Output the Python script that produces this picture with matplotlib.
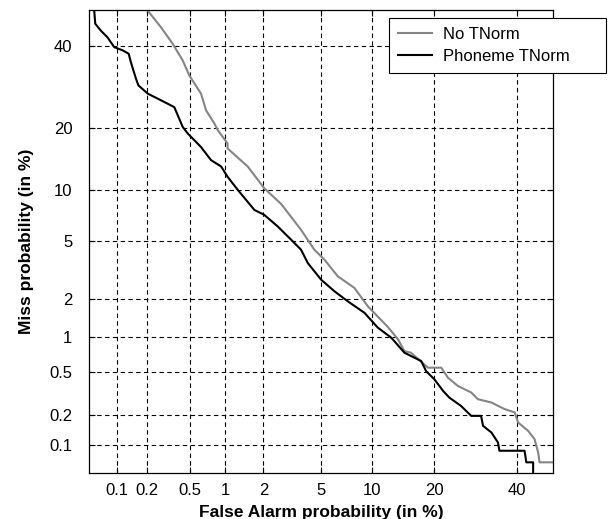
import math
import numpy as np
import matplotlib
matplotlib.use("Agg")
import matplotlib.pyplot as plt

plt.rcParams['font.family'] = ['Liberation Sans', 'DejaVu Sans']

# DET curves, values in percent
fa_no_tnorm = [0.203, 0.203, 0.272, 0.350, 0.432, 0.495, 0.628, 0.694, 0.816, 0.872,
               1.05, 1.05, 1.52, 2.03, 2.69, 3.70, 4.53, 5.25, 6.35, 7.96,
               9.46, 12.1, 13.6, 14.6, 15.7, 18.75, 21.4, 22.8, 25.0, 28.1,
               29.7, 33.1, 36.6, 39.3, 40.2, 43.0, 44.8, 45.8, 46.2, 52.0]
miss_no_tnorm = [51.2, 49.8, 45.1, 40.5, 36.0, 32.1, 27.6, 23.8, 21.0, 19.65,
                 17.15, 16.26, 13.3, 10.26, 8.41, 5.91, 4.42, 3.80, 2.92, 2.41,
                 1.76, 1.21, 0.96, 0.767, 0.743, 0.551, 0.551, 0.449, 0.377, 0.328,
                 0.284, 0.264, 0.228, 0.212, 0.169, 0.139, 0.1145, 0.0834, 0.0653, 0.0653]

fa_phoneme = [0.057, 0.057, 0.0585, 0.067, 0.079, 0.093, 0.114, 0.131, 0.138, 0.155,
              0.164, 0.203, 0.272, 0.362, 0.432, 0.48, 0.628, 0.765, 0.93, 1.05,
              1.27, 1.71, 2.03, 2.55, 3.17, 3.70, 4.10, 5.01, 6.06, 7.28,
              9.06, 10.7, 12.6, 14.6, 17.5, 18.4, 20.0, 21.8, 23.1, 25.7,
              28.1, 30.5, 31.0, 33.1, 34.8, 35.2, 42.0, 42.5, 44.4, 44.4]
miss_phoneme = [51.2, 49.8, 46.1, 44.2, 42.3, 39.6, 38.7, 37.8, 35.5, 31.3,
                29.6, 27.6, 26.05, 24.5, 20.3, 19.0, 16.5, 14.3, 13.3, 11.8,
                10.05, 7.77, 7.27, 6.19, 5.12, 4.42, 3.61, 2.76, 2.28, 1.92,
                1.57, 1.20, 0.99, 0.743, 0.630, 0.514, 0.434, 0.339, 0.294, 0.245,
                0.196, 0.196, 0.156, 0.134, 0.106, 0.0867, 0.0867, 0.0653, 0.0653, 0.04]

ticks = [0.1, 0.2, 0.5, 1, 2, 5, 10, 20, 40]
tick_labels = ['0.1', '0.2', '0.5', '1', '2', '5', '10', '20', '40']
lims = (0.05, 50)

# normal deviate scale
_z = np.linspace(-8, 8, 32001)
_cdf = np.array([0.5 * math.erfc(-v / math.sqrt(2)) for v in _z])


def probit(p):
    q = np.clip(np.asarray(p, dtype=float) / 100.0, 1e-14, 1 - 1e-14)
    return np.interp(q, _cdf, _z)


def inv_probit(z):
    return np.interp(np.asarray(z, dtype=float), _z, _cdf) * 100.0


fig = plt.figure(figsize=(6.08, 5.19), dpi=100)
ax = fig.add_axes([89 / 608, 46 / 519, 464 / 608, 463 / 519])
ax.set_xscale('function', functions=(probit, inv_probit))
ax.set_yscale('function', functions=(probit, inv_probit))

ax.plot(fa_no_tnorm, miss_no_tnorm, color='#858585', lw=1.5, label='No TNorm')
ax.plot(fa_phoneme, miss_phoneme, color='black', lw=1.5, label='Phoneme TNorm')

ax.set_xlim(*lims)
ax.set_ylim(*lims)
ax.set_xticks(ticks)
ax.set_xticklabels(tick_labels)
ax.set_yticks(ticks)
ax.set_yticklabels(tick_labels)
ax.minorticks_off()
ax.tick_params(direction='in', length=4, width=0.8, top=True, right=True,
               labelsize=12, colors='black')
ax.tick_params(axis='x', pad=7)
ax.tick_params(axis='y', pad=12)
ax.grid(True, color='black', linestyle=(0, (4, 3)), linewidth=0.8)
for s in ax.spines.values():
    s.set_linewidth(0.9)

ax.set_xlabel('False Alarm probability (in %)', fontsize=12.5, fontweight='bold', labelpad=5)
ax.set_ylabel('Miss probability (in %)', fontsize=12.5, fontweight='bold', labelpad=11)

leg = fig.legend(loc='upper left', mode='expand',
                 bbox_to_anchor=(389 / 608, 1 - 69 / 519, 217 / 608, 51 / 519),
                 fontsize=12, frameon=True, fancybox=False, edgecolor='black',
                 framealpha=1, handlelength=2.0, handletextpad=0.7,
                 borderpad=0.55, labelspacing=0.4, borderaxespad=0)
leg.get_frame().set_linewidth(0.8)

fig.savefig('out.png', dpi=100)
